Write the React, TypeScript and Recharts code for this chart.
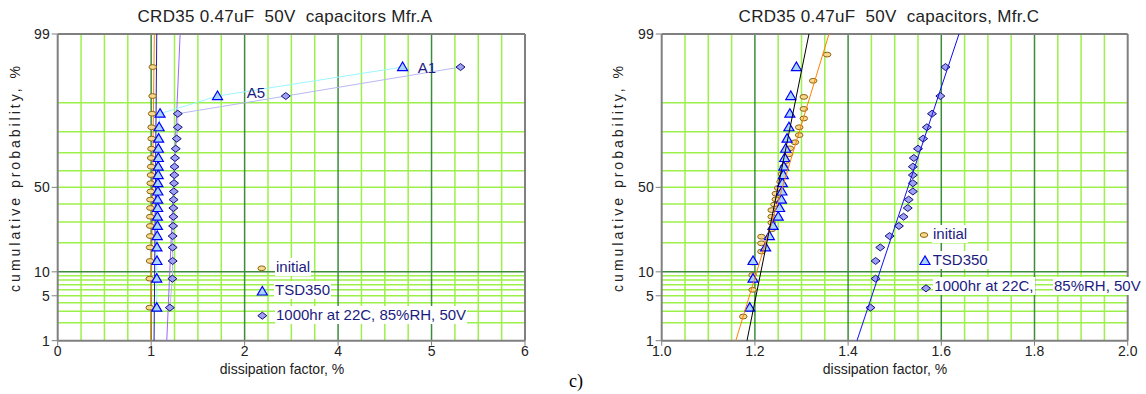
import { ScatterChart, Scatter, XAxis, YAxis, ReferenceLine } from 'recharts'

const FONT = '"Liberation Sans", Arial, sans-serif'
const NAVY = '#1c1c80'
const LIGHT = '#9cf04a'
const DARK = '#3c8c3c'
const FRAME = '#808080'

// probability axis (normal scale), values in %
const yTickPct = [1, 5, 10, 50, 99]
const yTickLabels = ['1', '5', '10', '50', '99']
const lightPct = [2, 3, 4, 5, 6, 7, 8, 9, 20, 30, 40, 50, 60, 70, 80, 90]
const darkPct = [10]

// left chart (Mfr.A) - x in axis positions, tick labels as printed
const leftXTicks = [0, 1, 2, 3, 4, 5]
const leftXLabels = ['0', '1', '2', '4', '5', '6']
const leftPct = [3.4, 8.3, 13.2, 18.1, 23.0, 27.9, 32.8, 37.7, 42.6, 47.5, 52.5, 57.4, 62.3, 67.2, 72.1, 77.0, 81.9, 86.8, 91.7, 96.6]
const leftInitial = [0.985, 0.985, 0.988, 0.988, 0.99, 0.99, 0.99, 0.992, 0.992, 0.995, 0.995, 0.998, 1.0, 1.0, 1.003, 1.005, 1.005, 1.01, 1.015, 1.017]
const leftTsd = [1.06, 1.06, 1.062, 1.062, 1.065, 1.067, 1.067, 1.07, 1.07, 1.072, 1.072, 1.075, 1.075, 1.077, 1.077, 1.08, 1.085, 1.095, 1.71, 3.69]
const leftHum = [1.2, 1.227, 1.23, 1.23, 1.23, 1.235, 1.238, 1.238, 1.24, 1.242, 1.245, 1.248, 1.25, 1.255, 1.263, 1.274, 1.285, 1.285, 2.44, 4.31]
// fitted lines, x at 1% and 99%
const leftFitInitial = [0.995, 1.034]
const leftFitTsd = [1.031, 1.06]
const leftFitHum = [1.167, 1.31]

// right chart (Mfr.C)
const rightXTicks = [1.0, 1.2, 1.4, 1.6, 1.8, 2.0]
const rightInitialPct = [2.5, 6.0, 9.2, 12.7, 16.5, 19.8, 22.7, 26.2, 29.6, 32.8, 36.5, 39.7, 42.8, 46.2, 49.6, 53.4, 58.0, 62.3, 65.5, 69.2, 72.3, 75.3, 78.6, 81.9, 85.2, 88.3, 91.5, 94.7, 97.8]
const rightInitial = [1.175, 1.195, 1.195, 1.195, 1.214, 1.214, 1.214, 1.236, 1.236, 1.236, 1.236, 1.242, 1.245, 1.245, 1.25, 1.255, 1.258, 1.262, 1.266, 1.273, 1.275, 1.286, 1.295, 1.295, 1.305, 1.305, 1.305, 1.325, 1.355]
const rightPct = [3.4, 8.3, 13.2, 18.1, 23.0, 27.9, 32.8, 37.7, 42.6, 47.5, 52.5, 57.4, 62.3, 67.2, 72.1, 77.0, 81.9, 86.8, 91.7, 96.6]
const rightTsd = [1.189, 1.196, 1.196, 1.223, 1.231, 1.239, 1.25, 1.253, 1.257, 1.258, 1.259, 1.261, 1.262, 1.264, 1.266, 1.269, 1.273, 1.275, 1.277, 1.289]
const rightHum = [1.448, 1.459, 1.459, 1.469, 1.489, 1.509, 1.519, 1.528, 1.53, 1.539, 1.539, 1.539, 1.539, 1.541, 1.55, 1.561, 1.569, 1.58, 1.598, 1.609]
const rightFitInitial = [1.159, 1.359]
const rightFitTsd = [1.183, 1.316]
const rightFitHum = [1.419, 1.638]

// inverse normal cdf (Acklam), turns % into the probability-paper coordinate
function probit(p: number) {
  const a = [-39.69683028665376, 220.9460984245205, -275.9285104469687, 138.357751867269, -30.66479806614716, 2.506628277459239]
  const b = [-54.47609879822406, 161.5858368580409, -155.6989798598866, 66.80131188771972, -13.28068155288572]
  const c = [-0.007784894002430293, -0.3223964580411365, -2.400758277161838, -2.549732539343734, 4.374664141464968, 2.938163982698783]
  const d = [0.007784695709041462, 0.3224671290700398, 2.445134137142996, 3.754408661907416]
  const lo = 0.02425
  if (p < lo) {
    const q = Math.sqrt(-2 * Math.log(p))
    return (((((c[0] * q + c[1]) * q + c[2]) * q + c[3]) * q + c[4]) * q + c[5]) / ((((d[0] * q + d[1]) * q + d[2]) * q + d[3]) * q + 1)
  }
  if (p > 1 - lo) return -probit(1 - p)
  const q = p - 0.5
  const r = q * q
  return (((((a[0] * r + a[1]) * r + a[2]) * r + a[3]) * r + a[4]) * r + a[5]) * q / (((((b[0] * r + b[1]) * r + b[2]) * r + b[3]) * r + b[4]) * r + 1)
}
const z = (pct: number) => probit(pct / 100)
const zMin = z(1)
const zMax = z(99)
const yTicks = yTickPct.map(z)
const yFmt = (v: number) => yTickLabels[yTicks.findIndex((t) => Math.abs(t - v) < 1e-6)] ?? ''

const pts = (xs: number[], pcts: number[]) => xs.map((x, i) => ({ x, y: z(pcts[i]) }))
const fit = (f: number[]) => [{ x: f[0], y: zMin }, { x: f[1], y: zMax }]

function Ellipse({ cx, cy }: any) {
  return <ellipse cx={cx} cy={cy} rx={3.8} ry={2.4} fill="#f6d98c" stroke="#8c6414" strokeWidth={1} />
}
function Tri({ cx, cy }: any) {
  return <polygon points={`${cx},${cy - 5} ${cx - 5},${cy + 3.5} ${cx + 5},${cy + 3.5}`} fill="#a8d4ff" stroke="#0000ff" strokeWidth={1.2} />
}
function Dia({ cx, cy }: any) {
  return <polygon points={`${cx},${cy - 3.5} ${cx + 4.5},${cy} ${cx},${cy + 3.5} ${cx - 4.5},${cy}`} fill="#a0a0f4" stroke="#10107a" strokeWidth={1} />
}
const NoDot = () => <g />

function gridLines(minorX: number[], majorX: number[], xMax: number) {
  return [
    ...minorX.map((v) => <ReferenceLine key={'vx' + v} x={v} stroke={LIGHT} strokeWidth={1.5} />),
    ...lightPct.map((p) => <ReferenceLine key={'hy' + p} y={z(p)} stroke={LIGHT} strokeWidth={1.5} />),
    ...majorX.map((v) => <ReferenceLine key={'VX' + v} x={v} stroke={DARK} strokeWidth={1.5} />),
    ...darkPct.map((p) => <ReferenceLine key={'HY' + p} y={z(p)} stroke={DARK} strokeWidth={1.5} />),
    <ReferenceLine key="top" y={zMax} stroke={FRAME} strokeWidth={2} />,
    <ReferenceLine key="right" x={xMax} stroke={FRAME} strokeWidth={2} />,
  ]
}

const tickStyle = { fontSize: 14, fill: '#222', fontFamily: FONT }

function yAxis(width: number) {
  return (
    <YAxis type="number" dataKey="y" domain={[zMin, zMax]} ticks={yTicks} tickFormatter={yFmt}
      width={width} allowDataOverflow axisLine={{ stroke: FRAME, strokeWidth: 2 }}
      tickLine={{ stroke: FRAME }} tickSize={6} tickMargin={2} tick={tickStyle} />
  )
}

const leftMinor = Array.from({ length: 20 }, (_, i) => i * 0.25).filter((v) => v % 1 !== 0)
const rightMinor = Array.from({ length: 20 }, (_, i) => 1 + i * 0.05).filter((v) => Math.abs(v * 5 - Math.round(v * 5)) > 1e-6)

function LeftChart() {
  return (
    <ScatterChart width={560} height={394} margin={{ top: 34, right: 35, bottom: 0, left: 0 }}>
      {gridLines(leftMinor, [1, 2, 3, 4], 5)}
      <XAxis type="number" dataKey="x" domain={[0, 5]} ticks={leftXTicks} tickFormatter={(v: number) => leftXLabels[leftXTicks.indexOf(v)]}
        height={53.3} allowDataOverflow axisLine={{ stroke: FRAME, strokeWidth: 2 }} tickLine={{ stroke: FRAME }}
        tickSize={5} tickMargin={0} tick={tickStyle} />
      {yAxis(57.7)}
      <Scatter data={fit(leftFitInitial)} line={{ stroke: '#ff8000', strokeWidth: 1 }} shape={NoDot} isAnimationActive={false} />
      <Scatter data={fit(leftFitTsd)} line={{ stroke: '#2020a0', strokeWidth: 1 }} shape={NoDot} isAnimationActive={false} />
      <Scatter data={fit(leftFitHum)} line={{ stroke: '#9a66ff', strokeWidth: 1 }} shape={NoDot} isAnimationActive={false} />
      <Scatter data={pts(leftInitial, leftPct)} shape={Ellipse} isAnimationActive={false} />
      <Scatter data={pts(leftTsd, leftPct)} line={{ stroke: '#9ff4ff', strokeWidth: 1 }} shape={Tri} isAnimationActive={false} />
      <Scatter data={pts(leftHum, leftPct)} line={{ stroke: '#b8b8f4', strokeWidth: 1 }} shape={Dia} isAnimationActive={false} />
    </ScatterChart>
  )
}

function RightChart() {
  return (
    <ScatterChart width={546} height={394} margin={{ top: 34, right: 18.3, bottom: 0, left: 0 }}>
      {gridLines(rightMinor, [1.2, 1.4, 1.6, 1.8], 2)}
      <XAxis type="number" dataKey="x" domain={[1, 2]} ticks={rightXTicks} tickFormatter={(v: number) => v.toFixed(1)}
        height={53.3} allowDataOverflow axisLine={{ stroke: FRAME, strokeWidth: 2 }} tickLine={{ stroke: FRAME }}
        tickSize={5} tickMargin={0} tick={tickStyle} />
      {yAxis(61.7)}
      <Scatter data={pts(rightInitial, rightInitialPct)} shape={Ellipse} isAnimationActive={false} />
      <Scatter data={pts(rightTsd, rightPct)} shape={Tri} isAnimationActive={false} />
      <Scatter data={pts(rightHum, rightPct)} shape={Dia} isAnimationActive={false} />
      <Scatter data={fit(rightFitInitial)} line={{ stroke: '#ff8000', strokeWidth: 1 }} shape={NoDot} isAnimationActive={false} />
      <Scatter data={fit(rightFitTsd)} line={{ stroke: '#000000', strokeWidth: 1 }} shape={NoDot} isAnimationActive={false} />
      <Scatter data={fit(rightFitHum)} line={{ stroke: '#1010f0', strokeWidth: 1 }} shape={NoDot} isAnimationActive={false} />
    </ScatterChart>
  )
}

function Tag({ x, y, text }: { x: number; y: number; text: string }) {
  return (
    <div style={{ position: 'absolute', left: x, top: y - 9, height: 18, lineHeight: '18px', background: '#fff',
      fontSize: 15, fontFamily: FONT, color: NAVY, whiteSpace: 'pre', padding: '0 1px' }}>{text}</div>
  )
}

export default function App() {
  const titleStyle = { fontSize: 17, fontFamily: FONT, fill: '#222', whiteSpace: 'pre' as const, letterSpacing: 0.3 }
  const ylab = 'cumulative probability, %'
  return (
    <div style={{ position: 'absolute', left: 0, top: 0, width: 1146, height: 394, background: '#fff', overflow: 'hidden' }}>
      <div style={{ position: 'absolute', left: 0, top: 0 }}><LeftChart /></div>
      <div style={{ position: 'absolute', left: 600, top: 0 }}><RightChart /></div>
      <svg width={1146} height={394} style={{ position: 'absolute', left: 0, top: 0 }}>
        <text x={285} y={22} textAnchor="middle" style={titleStyle}>CRD35 0.47uF  50V  capacitors Mfr.A</text>
        <text x={889} y={22} textAnchor="middle" style={titleStyle}>CRD35 0.47uF  50V  capacitors, Mfr.C</text>
        <text transform="translate(20,177.5) rotate(-90)" textAnchor="middle" fontSize={14} fontFamily={FONT} fill="#222" letterSpacing={3}>{ylab}</text>
        <text transform="translate(623,177.5) rotate(-90)" textAnchor="middle" fontSize={14} fontFamily={FONT} fill="#222" letterSpacing={3}>{ylab}</text>
        <text x={282} y={374} textAnchor="middle" fontSize={14} fontFamily={FONT} fill="#222">dissipation factor, %</text>
        <text x={885} y={374} textAnchor="middle" fontSize={14} fontFamily={FONT} fill="#222">dissipation factor, %</text>
        <text x={583} y={387} textAnchor="end" fontSize={18} fontFamily='"Liberation Serif", serif' fill="#000">c)</text>
        <text x={256} y={98} textAnchor="middle" fontSize={15} fontFamily={FONT} fill={NAVY}>A5</text>
        <text x={427} y={73} textAnchor="middle" fontSize={15} fontFamily={FONT} fill={NAVY}>A1</text>
        <Ellipse cx={261.7} cy={268.3} />
        <Tri cx={262.3} cy={291.5} />
        <Dia cx={262.3} cy={315.7} />
        <Ellipse cx={924} cy={235} />
        <Tri cx={925} cy={261} />
        <Dia cx={926} cy={288.3} />
      </svg>
      <Tag x={275} y={267} text="initial" />
      <Tag x={274} y={290} text="TSD350" />
      <Tag x={275} y={314.5} text="1000hr at 22C, 85%RH, 50V" />
      <Tag x={932} y={233.5} text="initial" />
      <Tag x={931.7} y={259.5} text="TSD350" />
      <Tag x={933.3} y={286} text="1000hr at 22C," />
      <Tag x={1053} y={286} text="85%RH, 50V" />
    </div>
  )
}
